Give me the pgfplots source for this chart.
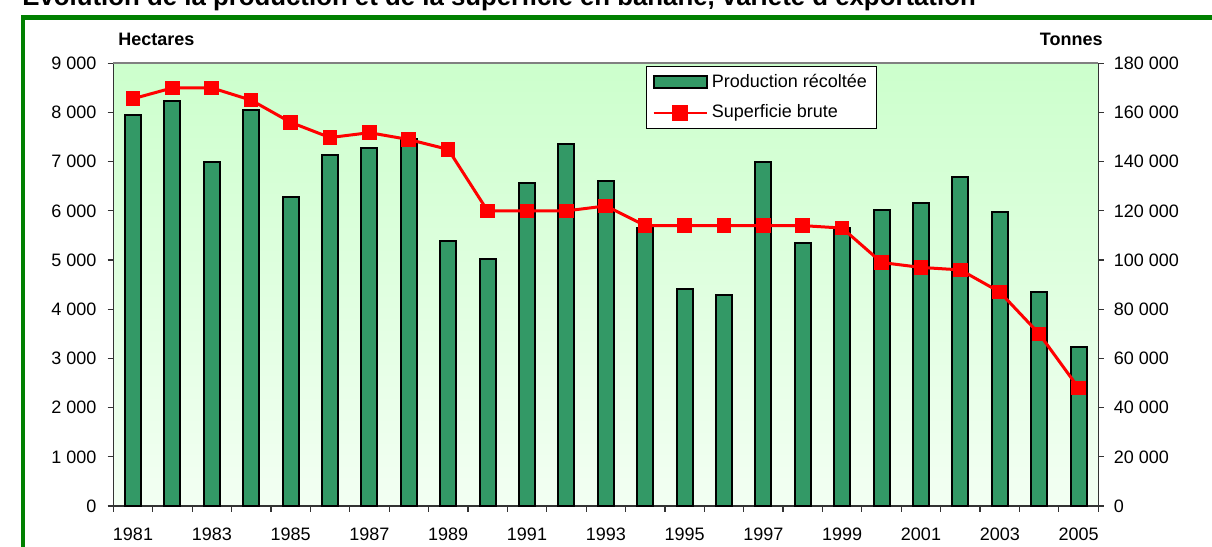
\documentclass[border=0pt]{standalone}
\usepackage{pgfplots}
\pgfplotsset{compat=1.18}
\usepackage{fontspec}
\setmainfont{Liberation Sans}
\definecolor{barg}{HTML}{339966}
\definecolor{frameg}{HTML}{008000}
\definecolor{bgtop}{HTML}{CCFFCC}
\definecolor{bgbot}{HTML}{F3FFF3}

\pgfplotstableread{
idx tonnes
0 159000
1 164700
2 140000
3 161000
4 125600
5 142800
6 145400
7 149200
8 107900
9 100500
10 131300
11 147100
12 132300
13 113000
14 88200
15 85900
16 139700
17 107100
18 113000
19 120400
20 123000
21 133900
22 119700
23 87200
24 64600
}\prodtable

\pgfplotstableread{
idx ha
0 8280
1 8500
2 8500
3 8250
4 7800
5 7490
6 7590
7 7450
8 7250
9 6000
10 6000
11 6000
12 6100
13 5700
14 5700
15 5700
16 5700
17 5700
18 5650
19 4950
20 4850
21 4800
22 4350
23 3500
24 2400
}\surftable

\begin{document}
\fontsize{9}{10.8}\selectfont
\begin{tikzpicture}
\path[use as bounding box] (0,0) rectangle (606pt,273.5pt);
\node[anchor=base west, inner sep=0, font=\fontsize{12.9}{14}\selectfont\bfseries] at (11pt,270.5pt) {Evolution de la production et de la superficie en banane, variété d'exportation};
\draw[frameg, line width=2.25pt] (11.5pt,-10pt) -- (11.5pt,264.75pt) -- (620pt,264.75pt);
\node[anchor=base west, inner sep=0, font=\bfseries] at (59pt,250.65pt) {Hectares};
\node[anchor=base east, inner sep=0, font=\bfseries] at (551.5pt,250.65pt) {Tonnes};

\begin{axis}[
  at={(56.65pt,20.5pt)}, anchor=south west,
  width=492.5pt, height=221.35pt, scale only axis,
  xmin=-0.5, xmax=24.5, ymin=0, ymax=180000,
  axis x line*=bottom, axis y line*=right,
  axis line style={-, black!80, line width=0.7pt},
  axis background/.style={top color=bgtop, bottom color=bgbot},
  xtick={-0.5,0.5,...,24.5},
  xticklabels={},
  extra x ticks={0,2,...,24},
  extra x tick labels={1981,1983,1985,1987,1989,1991,1993,1995,1997,1999,2001,2003,2005},
  extra x tick style={major tick length=0pt, xticklabel style={yshift=-7.6pt}},
  tick align=outside,
  major tick length=2.8pt,
  tick style={black!80, line width=0.6pt},
  scaled y ticks=false,
  ytick={0,20000,40000,60000,80000,100000,120000,140000,160000,180000},
  yticklabels={0,20 000,40 000,60 000,80 000,100 000,120 000,140 000,160 000,180 000},
  ticklabel style={font=\fontsize{9}{10.8}\selectfont},
  yticklabel style={xshift=1.8pt},
]
\addplot[ybar, bar width=8pt, fill=barg, draw=black, line width=1pt] table[x=idx, y=tonnes] {\prodtable};
\end{axis}

\begin{axis}[
  at={(56.65pt,20.5pt)}, anchor=south west,
  width=492.5pt, height=221.35pt, scale only axis,
  xmin=-0.5, xmax=24.5, ymin=0, ymax=9000,
  axis x line=none, axis y line*=left,
  axis line style={-, black!80, line width=0.7pt},
  xtick=\empty,
  scaled y ticks=false,
  ytick={0,1000,2000,3000,4000,5000,6000,7000,8000,9000},
  yticklabels={0,1 000,2 000,3 000,4 000,5 000,6 000,7 000,8 000,9 000},
  tick align=outside,
  major tick length=2.8pt,
  tick style={black!80, line width=0.6pt},
  ticklabel style={font=\fontsize{9}{10.8}\selectfont},
  yticklabel style={xshift=-2.4pt},
  clip=false,
  legend style={at={(0.5408,0.9946)}, anchor=north west, draw=black, line width=0.5pt,
    fill=white, font=\fontsize{9}{10.8}\selectfont, inner xsep=3pt, inner ysep=2pt,
    row sep=3.4pt},
  legend cell align=left,
]
\draw[gray, line width=1pt] (rel axis cs:0,1) -- (rel axis cs:1,1);
\addlegendimage{legend image code/.code={\draw[fill=barg, draw=black, line width=1pt] (0pt,-3.1pt) rectangle (26.5pt,3.1pt);}}
\addlegendentry{Production récoltée}
\addplot[red, line width=1.5pt, mark=square*, mark size=3.4pt, mark options={fill=red, draw=red, line width=0pt},
  legend image code/.code={\draw[red, line width=1.2pt] (0pt,0pt) -- (26.5pt,0pt); \fill[red] (9.9pt,-3.3pt) rectangle (16.6pt,3.3pt);}]
  table[x=idx, y=ha] {\surftable};
\addlegendentry{Superficie brute}
\end{axis}
\end{tikzpicture}
\end{document}
